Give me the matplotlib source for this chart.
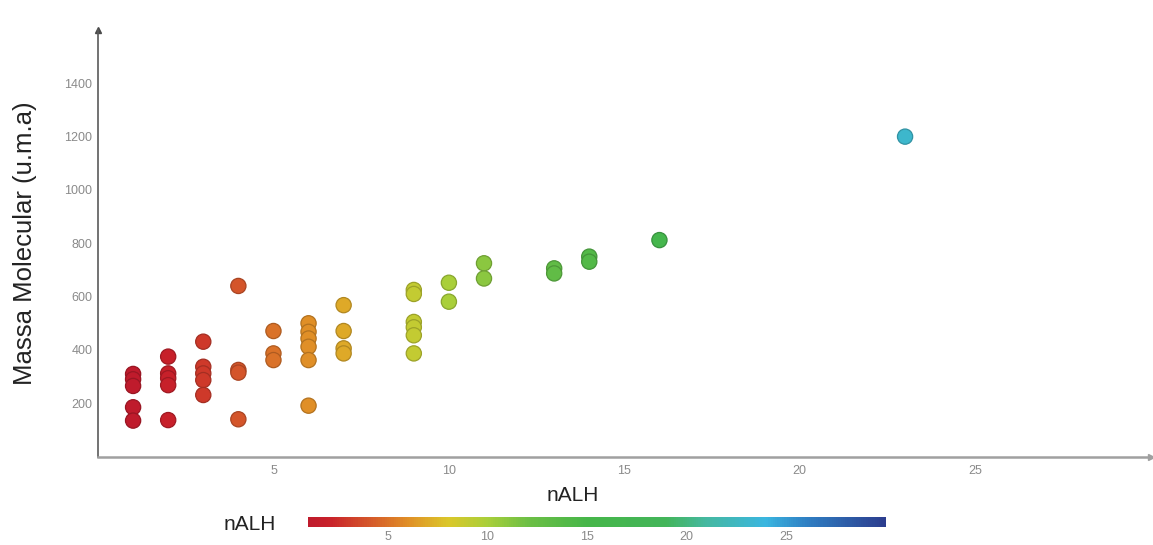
import numpy as np
import matplotlib
matplotlib.use("Agg")
import matplotlib.pyplot as plt
from matplotlib.colors import LinearSegmentedColormap, Normalize
from matplotlib.cm import ScalarMappable

plt.rcParams['font.family'] = ['Liberation Sans', 'DejaVu Sans']

# nALH (x) and molecular mass (y) of each compound
nalh = [1, 1, 1, 1, 1,
        2, 2, 2, 2, 2,
        3, 3, 3, 3, 3,
        4, 4, 4, 4,
        5, 5, 5,
        6, 6, 6, 6, 6, 6,
        7, 7, 7, 7,
        9, 9, 9, 9, 9, 9,
        10, 10,
        11, 11,
        13, 13,
        14, 14,
        16,
        23]
mass = [310, 290, 265, 185, 135,
        375, 312, 294, 268, 137,
        431, 337, 312, 287, 231,
        640, 325, 315, 140,
        471, 387, 362,
        500, 468, 443, 412, 362, 191,
        568, 471, 406, 387,
        625, 610, 505, 485, 455, 387,
        652, 581,
        725, 668,
        706, 687,
        750, 731,
        812,
        1200]

x_ticks = [5, 10, 15, 20, 25]
y_ticks = [200, 400, 600, 800, 1000, 1200, 1400]
cbar_ticks = [5, 10, 15, 20, 25]
c_min, c_max = 1, 30

# red -> orange -> yellow -> green -> cyan -> blue ramp
stops = [
    (1, "#bf1b2c"),
    (2, "#c8202a"),
    (4, "#d4562a"),
    (6, "#e08f27"),
    (8, "#dbc72a"),
    (10, "#a9cf3a"),
    (12, "#6dbf45"),
    (15, "#46b649"),
    (19, "#43b55a"),
    (21, "#45b8a0"),
    (24, "#3ab6e0"),
    (26, "#2f80c4"),
    (30, "#2c3d8e"),
]
cmap = LinearSegmentedColormap.from_list(
    "nalh", [((v - c_min) / (c_max - c_min), c) for v, c in stops])
norm = Normalize(vmin=c_min, vmax=c_max)

fig = plt.figure(figsize=(11.53, 5.45), dpi=100)
ax = fig.add_axes([0.085, 0.1622, 0.913, 0.7828])

face = cmap(norm(np.array(nalh)))
edge = face.copy()
edge[:, :3] *= 0.8
ax.scatter(nalh, mass, s=120, c=face, edgecolors=edge, linewidths=0.9, zorder=3)

ax.set_xlim(0, 30)
ax.set_ylim(0, 1600)
ax.set_xticks(x_ticks)
ax.set_yticks(y_ticks)
ax.tick_params(axis="both", length=0, labelsize=9, labelcolor="#8a8a8a")
ax.tick_params(axis="x", pad=6)
ax.tick_params(axis="y", pad=4)

for side in ("top", "right"):
    ax.spines[side].set_visible(False)
ax.spines["left"].set_color("#5a5a5a")
ax.spines["left"].set_linewidth(1.2)
ax.spines["bottom"].set_color("#a0a0a0")
ax.spines["bottom"].set_linewidth(1.8)

# arrow heads at the ends of the axes
ax.plot(0, 1, marker="^", markersize=4, color="#4a4a4a",
        transform=ax.transAxes, clip_on=False)
ax.plot(1, 0, marker=">", markersize=4, color="#a0a0a0",
        transform=ax.transAxes, clip_on=False)

ax.set_xlabel("nALH", fontsize=15, color="#222222")
ax.xaxis.set_label_coords(0.451, -0.068)
ax.set_ylabel("Massa Molecular (u.m.a)", fontsize=18.5, color="#222222", labelpad=20)

# horizontal colour scale
cax = fig.add_axes([0.267, 0.033, 0.5013, 0.0183])
cb = fig.colorbar(ScalarMappable(norm=norm, cmap=cmap), cax=cax, orientation="horizontal")
cb.outline.set_visible(False)
cb.set_ticks(cbar_ticks)
cax.tick_params(length=0, labelsize=9, labelcolor="#8a8a8a", pad=3)
fig.text(0.217, 0.037, "nALH", fontsize=15, color="#222222", ha="center", va="center")

fig.savefig("out.png", dpi=100, facecolor="white")
